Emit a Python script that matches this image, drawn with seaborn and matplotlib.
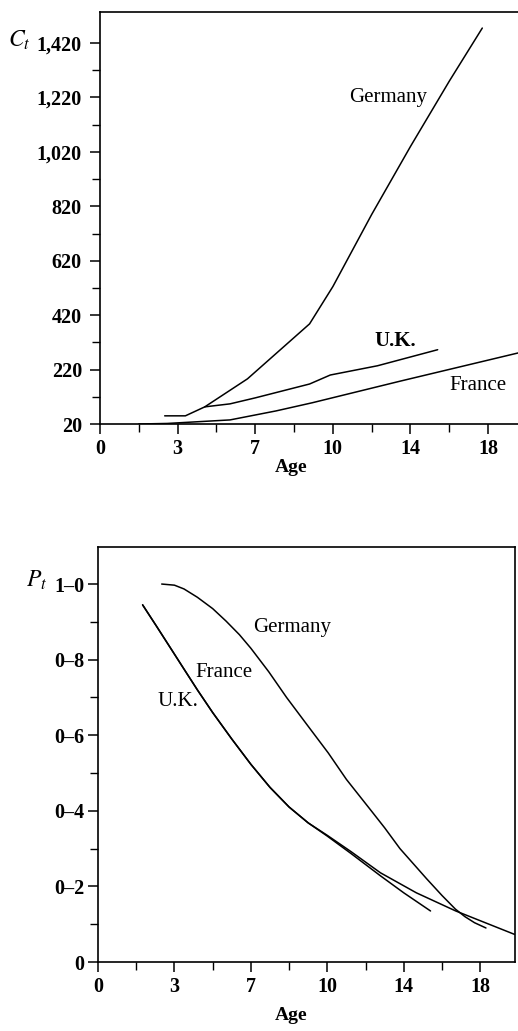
import numpy as np
import pandas as pd
import matplotlib
matplotlib.use("Agg")
import matplotlib.pyplot as plt
import seaborn as sns

# ---------------- data ----------------
# printed age scale (labels are not evenly spaced in age)
age_ticks = [0, 3, 7, 10, 14, 18]
age_tick_labels = ["0", "3", "7", "10", "14", "18"]
age_minor = [1.5, 5, 8.5, 12, 16]

# Panel 1: C_t
ger_c_age = [2.5, 3.4, 4.4, 6.6, 9.1, 10.0, 12.0, 14.0, 16.0, 17.7]
ger_c = [50, 50, 83, 186, 388, 525, 790, 1040, 1280, 1475]
uk_c_age = [4.4, 5.7, 7.0, 9.1, 9.9, 12.3, 15.4]
uk_c = [83, 94, 116, 167, 200, 234, 293]
fr_c_age = [1.5, 2.6, 5.7, 7.8, 9.2, 13.5, 19.6]
fr_c = [20, 22, 35, 68, 98, 178, 282]

c_ticks = [20, 220, 420, 620, 820, 1020, 1220, 1420]
c_tick_labels = ["20", "220", "420", "620", "820", "1,020", "1,220", "1,420"]
c_minor = [120, 320, 520, 720, 920, 1120, 1320]

# Panel 2: P_t
ger_p_age = [2.5, 3.0, 3.5, 4.2, 5.0, 5.7, 6.4, 7.0, 7.7, 8.4, 9.2, 10.05,
             11.0, 12.3, 13.0, 13.8, 14.5, 15.2, 16.0, 16.7, 17.2, 17.7, 18.3]
ger_p = [1.0, 0.997, 0.987, 0.965, 0.935, 0.902, 0.866, 0.83, 0.768, 0.70, 0.628, 0.553,
         0.483, 0.40, 0.355, 0.30, 0.26, 0.22, 0.176, 0.14, 0.12, 0.104, 0.09]
uk_p_age = [1.75, 2.3, 2.9, 3.5, 4.2, 5.0, 6.0, 7.0, 7.75, 8.5, 9.25, 10.0,
            11.24, 12.78, 14.0, 15.4]
uk_p = [0.945, 0.888, 0.825, 0.775, 0.72, 0.66, 0.59, 0.523, 0.462, 0.41, 0.368, 0.333,
        0.287, 0.228, 0.183, 0.135]
fr_p_age = [1.75, 2.3, 2.9, 3.5, 4.2, 5.0, 6.0, 7.0, 7.75, 8.5, 9.25, 10.0,
            11.24, 12.78, 14.66, 16.72, 19.8]
fr_p = [0.945, 0.888, 0.825, 0.775, 0.72, 0.66, 0.59, 0.523, 0.462, 0.41, 0.368, 0.335,
        0.292, 0.236, 0.183, 0.135, 0.073]

p_ticks = [0, 0.2, 0.4, 0.6, 0.8, 1.0]
p_tick_labels = ["0", "0\u20132", "0\u20134", "0\u20136", "0\u20138", "1\u20130"]
p_minor = [0.1, 0.3, 0.5, 0.7, 0.9]

# ---------------- style ----------------
sns.set_theme(style="ticks")
plt.rcParams["font.family"] = ["Liberation Serif", "DejaVu Serif"]
plt.rcParams["mathtext.fontset"] = "stix"

W, H = 518, 1031
fig = plt.figure(figsize=(W / 100, H / 100), dpi=100)
fig.patch.set_facecolor("white")

ax1 = fig.add_axes([100 / W, 1 - 424 / H, (518 - 100) / W, (424 - 12) / H])
ax2 = fig.add_axes([98 / W, 1 - 962 / H, (515 - 98) / W, (962 - 547) / H])

lw = 1.1
for a, v in [(ger_c_age, ger_c), (uk_c_age, uk_c), (fr_c_age, fr_c)]:
    sns.lineplot(x=a, y=v, ax=ax1, color="black", lw=lw, estimator=None, sort=False)
for a, v in [(ger_p_age, ger_p), (uk_p_age, uk_p), (fr_p_age, fr_p)]:
    sns.lineplot(x=a, y=v, ax=ax2, color="black", lw=lw, estimator=None, sort=False)

# piecewise-linear printed age scale
knots_age = np.array([-6.0, 0, 3, 7, 10, 14, 18, 22])
knots_pos = np.array([-4.0, 0, 2, 4, 6, 8, 10, 12])


def fwd(a):
    return np.interp(a, knots_age, knots_pos)


def inv(p):
    return np.interp(p, knots_pos, knots_age)


for ax in (ax1, ax2):
    ax.set_xscale("function", functions=(fwd, inv))
    ax.set_xticks(age_ticks)
    ax.set_xticklabels(age_tick_labels)
    ax.set_xticks(age_minor, minor=True)
    ax.set_xlabel("")
    ax.set_ylabel("")
    ax.set_facecolor("white")
    for s in ax.spines.values():
        s.set_color("black")
        s.set_linewidth(1.2)
    ax.tick_params(axis="both", which="major", direction="out", length=7, width=1.1,
                   color="black", labelsize=14.5, labelcolor="black", pad=4)
    ax.tick_params(axis="both", which="minor", direction="out", length=6, width=1.0,
                   color="black")
    for lab in ax.get_xticklabels() + ax.get_yticklabels():
        lab.set_fontweight("bold")

ax1.tick_params(axis="y", which="major", pad=6)
ax2.tick_params(axis="y", which="major", pad=3)

ax1.set_xlim(0, 19.54)
ax1.set_ylim(20, 1534)
ax1.set_yticks(c_ticks)
ax1.set_yticklabels(c_tick_labels, fontweight="bold")
ax1.set_yticks(c_minor, minor=True)
ax1.spines["right"].set_visible(False)

ax2.set_xlim(0, 19.82)
ax2.set_ylim(0, 1.098)
ax2.set_yticks(p_ticks)
ax2.set_yticklabels(p_tick_labels, fontweight="bold")
ax2.set_yticks(p_minor, minor=True)

# curve labels
ax1.text(12.85, 1221, "Germany", fontsize=15, ha="center", va="center", color="black")
ax1.text(13.2, 326, "U.K.", fontsize=15, ha="center", va="center", color="black",
         fontweight="bold")
ax1.text(17.48, 160, "France", fontsize=15, ha="center", va="center", color="black")

ax2.text(8.6, 0.886, "Germany", fontsize=15, ha="center", va="center", color="black")
ax2.text(5.58, 0.767, "France", fontsize=15, ha="center", va="center", color="black")
ax2.text(3.16, 0.688, "U.K.", fontsize=15, ha="center", va="center", color="black")

# axis titles
fig.text(8 / W, 1 - 40 / H, "$C_t$", fontsize=17, ha="left", va="center", color="black")
fig.text(26 / W, 1 - 580 / H, "$P_t$", fontsize=17, ha="left", va="center", color="black")
fig.text(291 / W, 1 - 468 / H, "Age", fontsize=14, fontweight="bold", ha="center",
         va="center", color="black")
fig.text(291 / W, 1 - 1016 / H, "Age", fontsize=14, fontweight="bold", ha="center",
         va="center", color="black")

fig.savefig("out.png", dpi=100, facecolor="white")
